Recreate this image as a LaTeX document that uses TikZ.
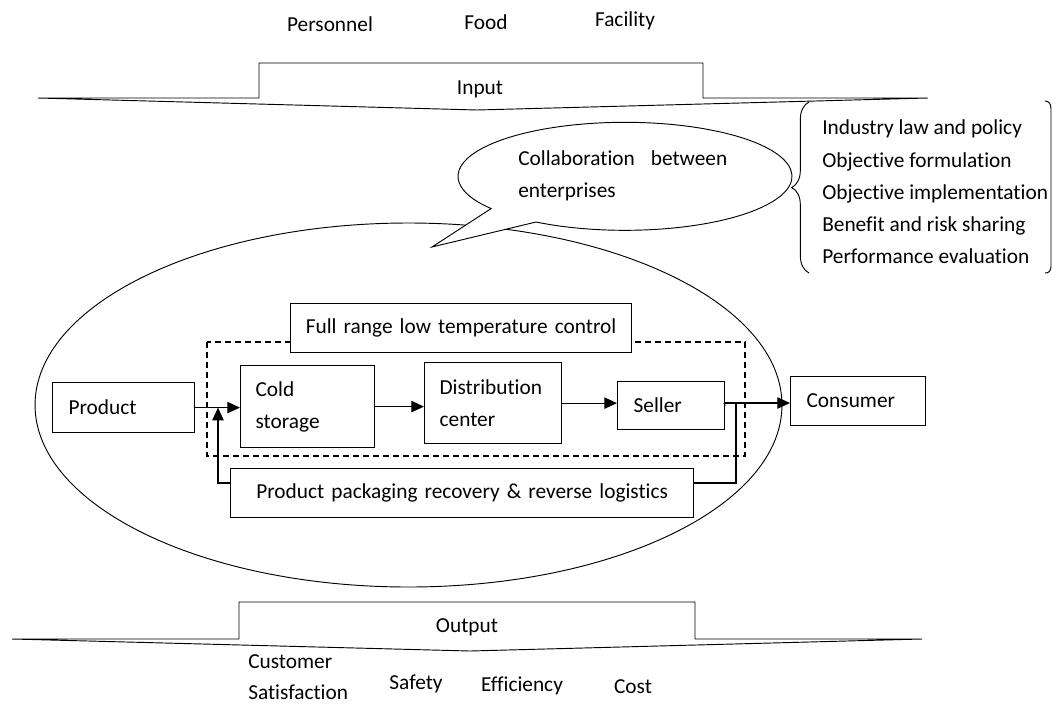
\documentclass[tikz,border=0pt]{standalone}
\usepackage{fontspec}
\setmainfont{Carlito}[Ligatures={NoCommon,NoRare,NoContextual}]
\usetikzlibrary{arrows.meta,decorations.pathreplacing}
\begin{document}
\begin{tikzpicture}[x=0.75pt,y=-0.75pt,
  font=\fontsize{16}{24}\selectfont,
  box/.style={draw, line width=0.9pt, fill=white, inner ysep=0pt, minimum height=36.75pt, align=left, anchor=north west},
  cbox/.style={box, align=center},
  txt/.style={inner sep=0pt},
  arr/.style={line width=0.9pt, -{Triangle[length=9.5pt,width=8.5pt]}},
  ln/.style={line width=0.9pt},
  thinl/.style={line width=0.7pt},
  dsh/.style={line width=0.9pt, dash pattern=on 4.5pt off 3pt}]
\useasboundingbox (0,0) rectangle (1052,704);

% top inputs
\node[txt] (personnel) at (330,24) {Personnel};
\node[txt] (food) at (486,22) {Food};
\node[txt] (facility) at (625,21) {Facility};

% input shape
\draw[thinl] (38,98) -- (259,98) -- (259,63) -- (703,63) -- (703,98) -- (928,98) -- (477,110) -- cycle;
\node[txt] (input) at (480,89) {Input};

% big ellipse
\draw[thinl] (408.5,405) ellipse [x radius=280.1pt, y radius=136.5pt];

% speech bubble
\coordinate (bc) at (625,176);
\coordinate (bb) at (536,222);
\coordinate (tip) at (432,247);
\draw[thinl, fill=white] (bb) arc[start angle=237.8, end angle=576.7, x radius=125.25pt, y radius=40.5pt] -- (tip) -- cycle;
\node[txt, anchor=west, align=left] (collab) at (518,176) {Collaboration\hspace{12pt}between\\enterprises};

% brace and list
\draw[thinl, decorate, decoration={brace, amplitude=13pt}] (809,273) -- (809,102);
\node[txt, anchor=west, align=left, font=\fontsize{16}{24.2}\selectfont] (list) at (822,192) {Industry law and policy\\Objective formulation\\Objective implementation\\Benefit and risk sharing\\Performance evaluation};
\draw[thinl] (1045,101) .. controls (1049,101) and (1051,104) .. (1051,109) -- (1051,266) .. controls (1051,271) and (1049,273) .. (1045,273);

% dashed region
\draw[dsh] (207,342) rectangle (745,456);

% boxes
\node[box, text width=82.5pt, inner xsep=12pt, minimum height=37.5pt] (product) at (52,382) {Product};
\node[box, text width=78pt, inner xsep=11.25pt, minimum height=61.5pt] (cold) at (240,365) {Cold\\storage};
\node[box, text width=80.25pt, inner xsep=11.25pt, minimum height=60.75pt] (dist) at (424,362) {Distribution\\center};
\node[box, text width=56.25pt, inner xsep=12pt, minimum height=36pt] (seller) at (617,381) {Seller};
\node[box, text width=77.25pt, inner xsep=12pt, minimum height=36.75pt] (consumer) at (790,376) {Consumer};
\node[cbox, text width=243.75pt, inner xsep=6pt] (full) at (290,303) {Full range low temperature control};
\node[cbox, text width=335.25pt, inner xsep=6pt] (rev) at (230,468) {Product packaging recovery \& reverse logistics};

% connectors
\draw[arr] (product.east) -- (product.east -| cold.west);
\draw[arr] (cold.east) -- (cold.east -| dist.west);
\draw[arr] (dist.east) -- (dist.east -| seller.west);
\coordinate (ms) at (724,403);
\draw[ln] (seller.east) -- (ms);
\draw[arr] (ms) -- (ms -| consumer.west);
\coordinate (brb) at (736,483);
\draw[ln] (brb |- ms) -- (brb) -- (brb -| rev.east);
\coordinate (fbc) at (218,483);
\draw[arr] (fbc -| rev.west) -- (fbc) -- (fbc |- product.east);

% output shape
\draw[thinl] (12,639) -- (239,639) -- (239,602) -- (695,602) -- (695,639) -- (922,639) -- (470,651) -- cycle;
\node[txt] (output) at (467,627) {Output};
\node[txt, anchor=west, align=left, font=\fontsize{16}{23.25}\selectfont] (custsat) at (248,677) {Customer\\Satisfaction};
\node[txt] (safety) at (416,684) {Safety};
\node[txt] (eff) at (522,686) {Efficiency};
\node[txt] (cost) at (633,687) {Cost};
\end{tikzpicture}
\end{document}
